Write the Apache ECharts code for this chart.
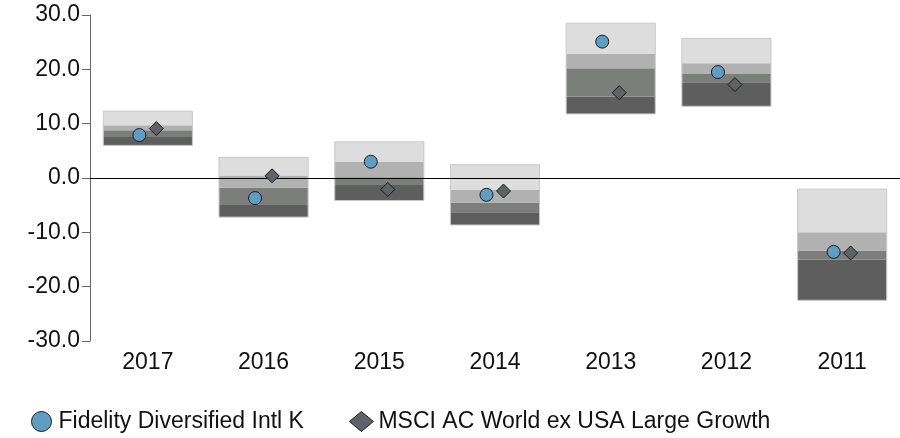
<!DOCTYPE html>
<html>
<head>
<meta charset="utf-8">
<script src="https://cdn.jsdelivr.net/npm/echarts@6/dist/echarts.min.js"></script>
<style>html,body{margin:0;padding:0;background:#fff}#c{width:900px;height:438px}</style>
</head>
<body>
<div id="c"></div>
<script>
var categories = ['2017', '2016', '2015', '2014', '2013', '2012', '2011'];
// quartile band boundaries from bottom to top
var bandLow    = [6.0, -7.2, -4.15, -8.65, 11.8, 13.2, -22.5];
var bandQ3     = [7.55, -4.95, -1.3, -6.3, 15.0, 17.6, -15.0];
var bandMedian = [8.8, -1.75, 0.15, -4.5, 20.2, 19.15, -13.35];
var bandQ1     = [9.7, 0.45, 2.95, -2.2, 22.8, 21.1, -10.0];
var bandHigh   = [12.3, 3.8, 6.65, 2.45, 28.5, 25.7, -2.05];
var fundValues  = [7.9, -3.7, 3.0, -3.1, 25.1, 19.5, -13.6];
var benchValues = [9.1, 0.4, -2.1, -2.4, 15.7, 17.2, -13.8];
var yTicks = [-30, -20, -10, 0, 10, 20, 30];
var fundName = 'Fidelity Diversified Intl K';
var benchName = 'MSCI AC World ex USA Large Growth';

var bandColors = ['#5e5e5e', '#7c7e7c', '#b1b1b1', '#dddddd'];
var FONT = 'Liberation Sans, Arial, sans-serif';
var FS = 23;

var bandData = categories.map(function (c, i) {
  return [i, bandLow[i], bandQ3[i], bandMedian[i], bandQ1[i], bandHigh[i]];
});

var chart = echarts.init(document.getElementById('c'));
chart.setOption({
  animation: false,
  textStyle: { fontFamily: FONT },
  grid: { left: 90, right: 0, top: 15, bottom: 97 },
  legend: {
    left: 26, bottom: 0,
    itemWidth: 24, itemHeight: 20, itemGap: 45,
    textStyle: { fontSize: FS, color: '#111', fontFamily: FONT },
    data: [
      { name: fundName, icon: 'circle', itemStyle: { color: '#5f9ec2', borderColor: '#1b1b1b', borderWidth: 1 } },
      { name: benchName, icon: 'diamond', itemStyle: { color: '#5f6268', borderColor: '#1b1b1b', borderWidth: 1 } }
    ]
  },
  xAxis: {
    type: 'category',
    data: categories,
    axisLine: { lineStyle: { color: '#444', width: 1 } },
    axisTick: { alignWithLabel: true, length: 8, lineStyle: { color: '#444' } },
    axisLabel: { fontSize: FS, color: '#111', margin: 10, fontFamily: FONT },
    splitLine: { show: false }
  },
  yAxis: {
    type: 'value',
    min: yTicks[0], max: yTicks[yTicks.length - 1], interval: 10,
    axisLine: { show: true, lineStyle: { color: '#666', width: 1 } },
    axisTick: { show: true, length: 8, lineStyle: { color: '#666' } },
    axisLabel: { fontSize: FS, color: '#111', margin: 10, fontFamily: FONT,
      formatter: function (v) { return v.toFixed(1); } },
    splitLine: { show: false }
  },
  series: [
    {
      type: 'custom',
      name: 'bands',
      silent: true,
      data: bandData,
      encode: { x: 0, y: [1, 5] },
      renderItem: function (params, api) {
        var idx = api.value(0);
        var bw = api.size([1, 0])[0] * 0.77;
        var children = [];
        for (var k = 0; k < 4; k++) {
          var lo = api.coord([idx, api.value(1 + k)]);
          var hi = api.coord([idx, api.value(2 + k)]);
          children.push({
            type: 'rect',
            shape: { x: lo[0] - bw / 2, y: hi[1], width: bw, height: lo[1] - hi[1] },
            style: { fill: bandColors[k] }
          });
        }
        var b = api.coord([idx, api.value(1)]);
        var t = api.coord([idx, api.value(5)]);
        children.push({
          type: 'rect',
          shape: { x: b[0] - bw / 2, y: t[1], width: bw, height: b[1] - t[1] },
          style: { fill: 'none', stroke: '#c8c8c8', lineWidth: 1 }
        });
        return { type: 'group', children: children };
      },
      z: 1,
      markLine: {
        silent: true,
        symbol: 'none',
        label: { show: false },
        lineStyle: { color: '#000', width: 1, type: 'solid' },
        data: [{ yAxis: 0 }]
      }
    },
    {
      type: 'scatter',
      name: fundName,
      data: fundValues,
      symbol: 'circle',
      symbolSize: 13,
      symbolOffset: [-8.5, 0],
      itemStyle: { color: '#5f9ec2', borderColor: '#1b1b1b', borderWidth: 1, opacity: 1 },
      z: 5
    },
    {
      type: 'scatter',
      name: benchName,
      data: benchValues,
      symbol: 'diamond',
      symbolSize: 14,
      symbolOffset: [8.5, 0],
      itemStyle: { color: '#5f6268', borderColor: '#1b1b1b', borderWidth: 1, opacity: 1 },
      z: 5
    }
  ]
});
</script>
</body>
</html>
